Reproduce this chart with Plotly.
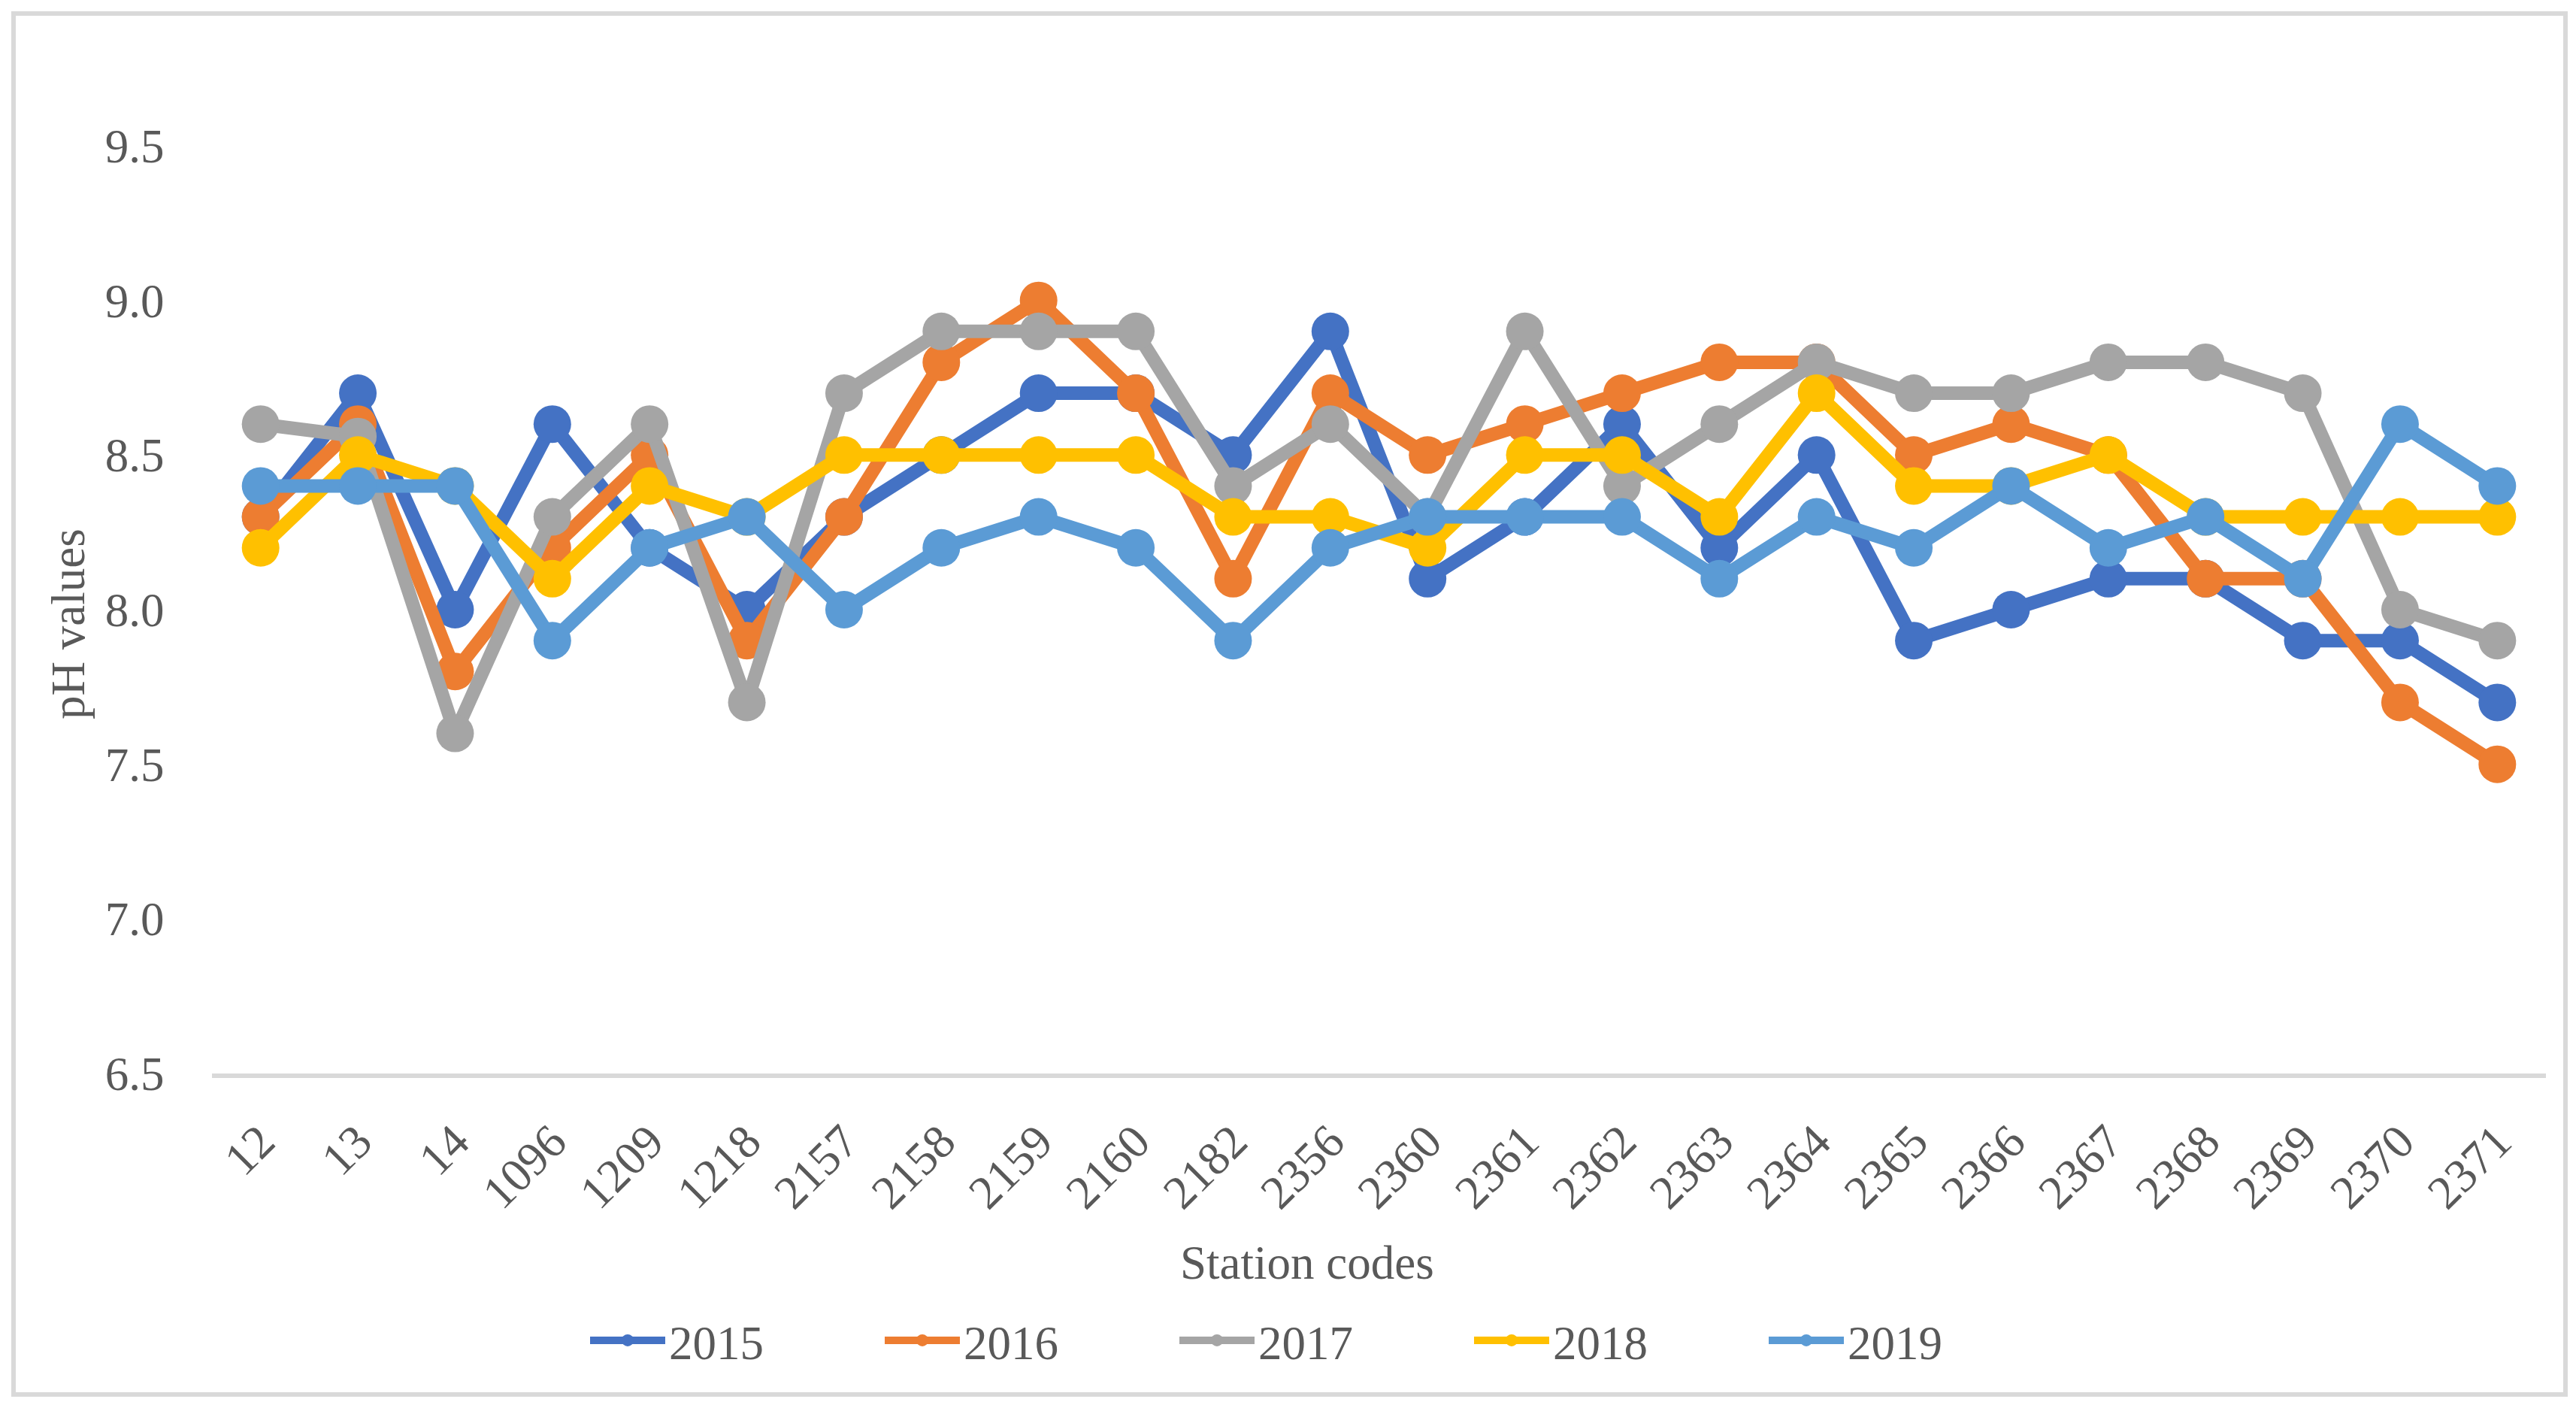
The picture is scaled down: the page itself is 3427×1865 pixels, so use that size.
import plotly.graph_objects as go

stations = ["12", "13", "14", "1096", "1209", "1218", "2157", "2158", "2159", "2160",
            "2182", "2356", "2360", "2361", "2362", "2363", "2364", "2365", "2366",
            "2367", "2368", "2369", "2370", "2371"]

ph_2015 = [8.3, 8.7, 8.0, 8.6, 8.2, 8.0, 8.3, 8.5, 8.7, 8.7, 8.5, 8.9, 8.1, 8.3, 8.6, 8.2,
           8.5, 7.9, 8.0, 8.1, 8.1, 7.9, 7.9, 7.7]
ph_2016 = [8.3, 8.6, 7.8, 8.2, 8.5, 7.9, 8.3, 8.8, 9.0, 8.7, 8.1, 8.7, 8.5, 8.6, 8.7, 8.8,
           8.8, 8.5, 8.6, 8.5, 8.1, 8.1, 7.7, 7.5]
ph_2017 = [8.6, 8.56, 7.6, 8.3, 8.6, 7.7, 8.7, 8.9, 8.9, 8.9, 8.4, 8.6, 8.3, 8.9, 8.4, 8.6,
           8.8, 8.7, 8.7, 8.8, 8.8, 8.7, 8.0, 7.9]
ph_2018 = [8.2, 8.5, 8.4, 8.1, 8.4, 8.3, 8.5, 8.5, 8.5, 8.5, 8.3, 8.3, 8.2, 8.5, 8.5, 8.3,
           8.7, 8.4, 8.4, 8.5, 8.3, 8.3, 8.3, 8.3]
ph_2019 = [8.4, 8.4, 8.4, 7.9, 8.2, 8.3, 8.0, 8.2, 8.3, 8.2, 7.9, 8.2, 8.3, 8.3, 8.3, 8.1,
           8.3, 8.2, 8.4, 8.2, 8.3, 8.1, 8.6, 8.4]

series = [("2015", ph_2015, "#4472C4"),
          ("2016", ph_2016, "#ED7D31"),
          ("2017", ph_2017, "#A5A5A5"),
          ("2018", ph_2018, "#FFC000"),
          ("2019", ph_2019, "#5B9BD5")]

y_ticks = [6.5, 7.0, 7.5, 8.0, 8.5, 9.0, 9.5]

FONT = "Liberation Serif, Times New Roman, serif"
TXT = "#595959"
FS = 63

fig = go.Figure()
for name, vals, col in series:
    fig.add_trace(go.Scatter(
        x=stations, y=vals, name=name, mode="lines+markers",
        line=dict(color=col, width=18),
        marker=dict(color=col, size=50),
    ))

W, H = 3427, 1865
L, R, T, B = 274, 48, 186, 445
pw, ph = W - L - R, H - T - B

def px(x):
    return (x - L) / pw

def py(y):
    return (H - B - y) / ph

fig.update_layout(
    width=W, height=H,
    margin=dict(l=L, r=R, t=T, b=B),
    paper_bgcolor="white", plot_bgcolor="white",
    font=dict(family=FONT, color=TXT, size=FS),
    showlegend=True,
    legend=dict(orientation="h", x=px(772), y=py(1775), xanchor="left", yanchor="middle",
                font=dict(family=FONT, color=TXT, size=FS), itemwidth=100,
                entrywidth=277, entrywidthmode="pixels",
                bgcolor="rgba(0,0,0,0)"),
    xaxis=dict(type="category", range=[-0.5, len(stations) - 0.5],
               showgrid=False, zeroline=False,
               showline=True, linecolor="#D9D9D9", linewidth=6,
               tickangle=-45, ticks="outside", ticklen=22, tickcolor="rgba(0,0,0,0)",
               tickfont=dict(family=FONT, color=TXT, size=FS)),
    yaxis=dict(range=[6.5, 9.5], tickvals=y_ticks, ticktext=[f"{v:.1f}" for v in y_ticks],
               showgrid=False, zeroline=False, showline=False,
               ticks="outside", ticklen=50, tickcolor="rgba(0,0,0,0)",
               tickfont=dict(family=FONT, color=TXT, size=FS)),
    annotations=[
        dict(text="Station codes", xref="paper", yref="paper", x=px(1731), y=py(1672),
             xanchor="center", yanchor="middle", showarrow=False,
             font=dict(family=FONT, color=TXT, size=FS)),
        dict(text="pH values", xref="paper", yref="paper", x=px(83), y=py(822),
             xanchor="center", yanchor="middle", showarrow=False, textangle=-90,
             font=dict(family=FONT, color=TXT, size=FS)),
    ],
    shapes=[
        dict(type="rect", xref="paper", yref="paper",
             x0=px(10), x1=px(3405), y0=py(1847), y1=py(10),
             line=dict(color="#D9D9D9", width=6), fillcolor="rgba(0,0,0,0)", layer="below"),
    ],
)

fig.write_html("out.html")
